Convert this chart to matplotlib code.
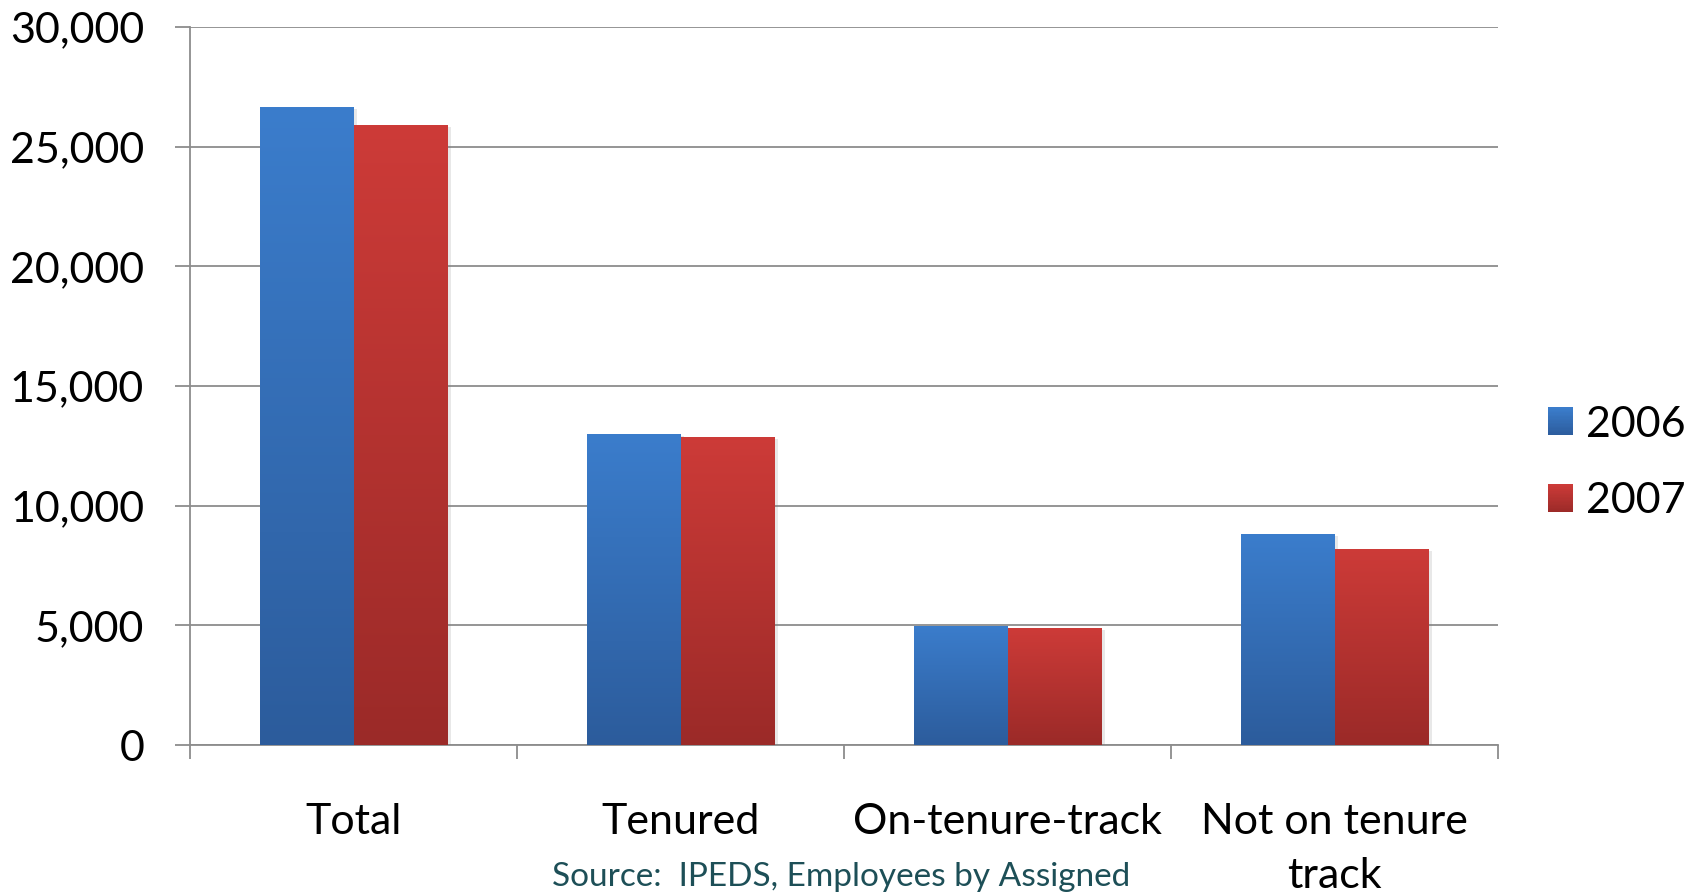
import numpy as np
import matplotlib
matplotlib.use("Agg")
import matplotlib.pyplot as plt
from matplotlib.legend_handler import HandlerBase
from matplotlib.patches import Rectangle
import matplotlib.patheffects as pe
from matplotlib.colors import LinearSegmentedColormap

categories = ["Total", "Tenured", "On-tenure-track", "Not on tenure\ntrack"]
series_names = ["2006", "2007"]
values_2006 = [26650, 13000, 4990, 8800]
values_2007 = [25900, 12880, 4880, 8200]
yticks = [0, 5000, 10000, 15000, 20000, 25000, 30000]
source_text = "Source:  IPEDS, Employees by Assigned"

top_colors = ["#3B7DCC", "#CD3B38"]
bot_colors = ["#2C5C9C", "#9B2A28"]

plt.rcParams['font.family'] = ['Lato', 'DejaVu Sans']

fig = plt.figure(figsize=(16.96, 8.96), dpi=100)
ax = fig.add_axes([190/1696, 1-745/896, (1498-190)/1696, (745-27)/896])

x = np.arange(len(categories))
w = 0.287
all_vals = [values_2006, values_2007]
for i, vals in enumerate(all_vals):
    bars = ax.bar(x + (i - 0.5) * w, vals, width=w, color=bot_colors[i],
                  linewidth=0, zorder=3)
    cmap = LinearSegmentedColormap.from_list("g%d" % i, [bot_colors[i], top_colors[i]])
    grad = np.linspace(0, 1, 256).reshape(-1, 1)
    for b in bars:
        b.set_path_effects([pe.SimplePatchShadow(offset=(2.5, -1.5), shadow_rgbFace='gray', alpha=0.18), pe.Normal()])
        x0, y0 = b.get_x(), b.get_y()
        im = ax.imshow(grad, cmap=cmap, origin='lower', aspect='auto',
                       extent=(x0, x0 + b.get_width(), y0, y0 + b.get_height()),
                       zorder=4, interpolation='bilinear')
        im.set_clip_path(b)

ax.set_xlim(-0.5, len(categories) - 0.5)
ax.set_ylim(0, 30000)
ax.set_yticks(yticks)
ax.set_yticklabels([f"{v:,}" for v in yticks])
ax.yaxis.grid(True, color="#8C8C8C", linewidth=1.3, zorder=0)
ax.set_axisbelow(True)

ax.set_xticks(x)
ax.set_xticklabels(categories, linespacing=1.5)
ax.set_xticks(np.arange(len(categories) + 1) - 0.5, minor=True)
ax.tick_params(axis='x', which='major', length=0, pad=42, labelsize=31)
ax.tick_params(axis='x', which='minor', length=10, width=1.3, color="#8C8C8C")
ax.tick_params(axis='y', length=11, width=1.3, color="#8C8C8C", pad=22, labelsize=31)

for s in ['top', 'right']:
    ax.spines[s].set_visible(False)
for s in ['left', 'bottom']:
    ax.spines[s].set_color("#8C8C8C")
    ax.spines[s].set_linewidth(1.3)


class GradHandler(HandlerBase):
    def __init__(self, top, bot):
        super().__init__()
        self.top, self.bot = top, bot

    def create_artists(self, legend, orig_handle, xdescent, ydescent, width, height, fontsize, trans):
        arts = []
        n = 20
        c0 = np.array(matplotlib.colors.to_rgb(self.bot))
        c1 = np.array(matplotlib.colors.to_rgb(self.top))
        for k in range(n):
            c = c0 + (c1 - c0) * (k + 0.5) / n
            r = Rectangle((-xdescent, -ydescent + height * k / n), width, height / n + 0.3,
                          facecolor=c, edgecolor='none', transform=trans)
            arts.append(r)
        return arts


h1 = Rectangle((0, 0), 1, 1)
h2 = Rectangle((0, 0), 1, 1)
leg = fig.legend([h1, h2], series_names, loc='center left',
                 bbox_to_anchor=(1538/1696 - 0.007, 1-463/896), frameon=False,
                 fontsize=31, handlelength=0.6, handleheight=0.6,
                 handletextpad=0.3, labelspacing=0.9, borderpad=0.0,
                 handler_map={h1: GradHandler(top_colors[0], bot_colors[0]),
                              h2: GradHandler(top_colors[1], bot_colors[1])})

fig.text(841/1696, 1-877/896, source_text, ha='center', va='center',
         fontsize=24, color="#1D4F57")

fig.savefig("out.png", dpi=100)
